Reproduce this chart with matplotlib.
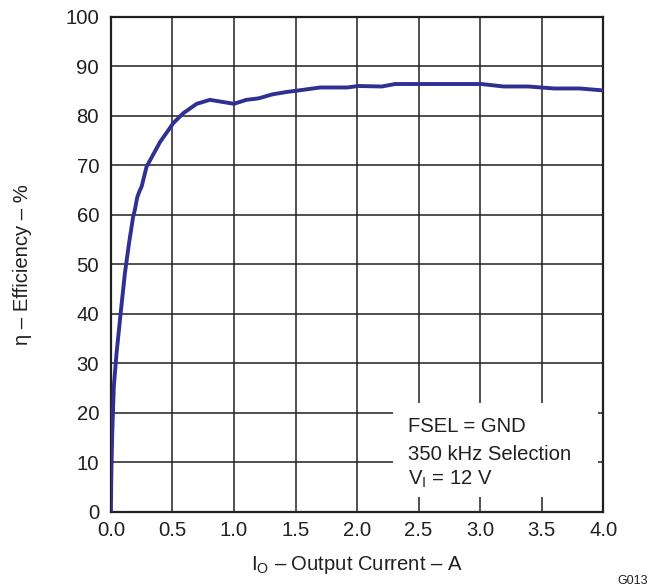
import matplotlib
matplotlib.use("Agg")
import matplotlib.pyplot as plt
from matplotlib.patches import Rectangle

plt.rcParams['font.family'] = ['Liberation Sans', 'DejaVu Sans']
plt.rcParams['mathtext.fontset'] = 'custom'
plt.rcParams['mathtext.rm'] = 'Liberation Sans'
plt.rcParams['mathtext.it'] = 'Liberation Sans'

current = [0.0, 0.004, 0.011, 0.024, 0.046, 0.079, 0.114, 0.149, 0.181, 0.195, 0.214,
           0.23, 0.25, 0.29, 0.40, 0.507, 0.588, 0.697, 0.805, 1.0, 1.10, 1.20,
           1.31, 1.43, 1.51, 1.70, 1.92, 2.01, 2.20, 2.31, 2.6, 3.01, 3.19, 3.39,
           3.60, 3.81, 4.0]
efficiency = [0.0, 8.0, 15.8, 25.3, 32.0, 40.0, 48.2, 54.5, 59.6, 61.0, 63.5,
              64.6, 65.7, 69.7, 74.7, 78.5, 80.5, 82.4, 83.2, 82.4, 83.2, 83.5,
              84.3, 84.8, 85.05, 85.7, 85.7, 86.0, 85.9, 86.4, 86.4, 86.4, 85.9, 85.9,
              85.5, 85.5, 85.1]

xticks = [0.0, 0.5, 1.0, 1.5, 2.0, 2.5, 3.0, 3.5, 4.0]
xticklabels = ["0.0", "0.5", "1.0", "1.5", "2.0", "2.5", "3.0", "3.5", "4.0"]
yticks = [0, 10, 20, 30, 40, 50, 60, 70, 80, 90, 100]
legend_lines = ["FSEL = GND", "350 kHz Selection", r"V$_\mathregular{I}$ = 12 V"]

FS = 14.6
TXT = '#231f20'

fig = plt.figure(figsize=(6.6, 5.88), dpi=100)
ax = fig.add_axes([0.168, 0.1298, 0.746, 0.8418])
ax.set_xlim(0, 4)
ax.set_ylim(0, 100)
ax.set_xticks(xticks)
ax.set_xticklabels(xticklabels)
ax.set_yticks(yticks)
ax.tick_params(length=0, labelsize=FS, colors=TXT)
ax.tick_params(axis='x', pad=7)
ax.tick_params(axis='y', pad=8.5)
ax.grid(True, color=TXT, linewidth=1.1)
ax.set_axisbelow(True)
for s in ax.spines.values():
    s.set_color(TXT)
    s.set_linewidth(1.6)

# legend white box covering gridlines
ax.add_patch(Rectangle((2.29, 3.0), 1.67, 19.0, facecolor='white', edgecolor='none', zorder=1.5))

ax.plot(current, efficiency, color='#2e3192', linewidth=2.8, zorder=3,
        solid_joinstyle='round', solid_capstyle='butt')

ty = [16.1, 10.45, 5.4]
for t, y in zip(legend_lines, ty):
    ax.text(2.41, y, t, fontsize=FS, color=TXT, va='baseline', ha='left', zorder=4)

ax.set_xlabel(r"I$_\mathregular{O}$ – Output Current – A", fontsize=FS, color=TXT, labelpad=10)
ax.set_ylabel("η – Efficiency – %", fontsize=FS, color=TXT, labelpad=24)
fig.text(0.982, 0.006, "G013", fontsize=9, color=TXT, ha='right', va='baseline')

fig.savefig("out.png", dpi=100)
